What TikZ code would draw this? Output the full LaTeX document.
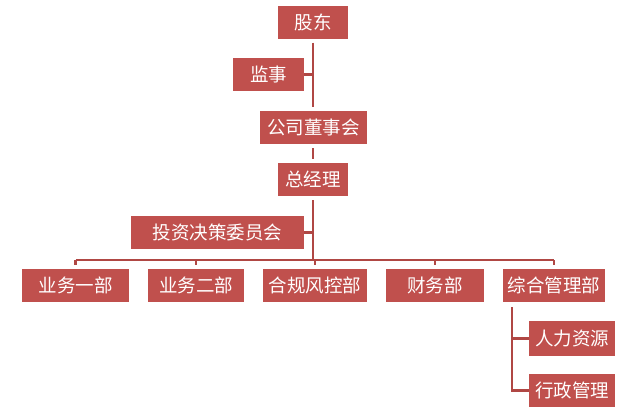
\documentclass[tikz,border=0pt]{standalone}
\usepackage{fontspec}
\setmainfont{Noto Sans CJK SC}
\definecolor{boxred}{HTML}{C0504D}
\definecolor{linered}{HTML}{B04744}
\begin{document}
\begin{tikzpicture}[x=1pt,y=-1pt,
  box/.style={fill=boxred,text=white,inner sep=0pt,font=\fontsize{18.5}{21}\selectfont,minimum height=33pt},
  conn/.style={draw=linered,line width=2.8pt},
  gap/.style={shorten <=4pt,shorten >=4pt}]
\useasboundingbox (0,0) rectangle (635,413);
\node[box,minimum width=70pt] (gd) at (313,22) {股东};
\node[box,minimum width=71pt] (js) at (268.5,74.5) {监事};
\node[box,minimum width=107pt] (dsh) at (313.5,127.5) {公司董事会};
\node[box,minimum width=70pt] (zjl) at (313,179.5) {总经理};
\node[box,minimum width=173pt] (tz) at (217.5,232.5) {投资决策委员会};
\node[box,minimum width=107pt] (yw1) at (75.5,285.5) {业务一部};
\node[box,minimum width=96pt] (yw2) at (196,285.5) {业务二部};
\node[box,minimum width=104pt] (hg) at (315,285.5) {合规风控部};
\node[box,minimum width=98pt] (cw) at (435,285.5) {财务部};
\node[box,minimum width=102pt] (zh) at (554,285.5) {综合管理部};
\node[box,minimum width=86pt,minimum height=35pt] (rl) at (572,338.5) {人力资源};
\node[box,minimum width=86pt] (xz) at (572,390.5) {行政管理};
\coordinate (bus) at (313,260);
\coordinate (trk) at (512,0);
% trunk
\draw[conn,gap] (gd.south) -- (gd.south |- dsh.north);
\draw[conn] (js.east) -- (js.east -| gd.south);
\draw[conn,gap] (dsh.south -| zjl.north) -- (zjl.north);
\draw[conn,shorten <=4pt] (zjl.south) -- (zjl.south |- bus);
\draw[conn] (tz.east) -- (tz.east -| zjl.south);
% bus
\draw[conn] (yw1.north |- bus) -- (zh.north |- bus);
\foreach \n in {yw1,yw2,hg,cw,zh}{
  \draw[conn,shorten >=4pt] (\n.north |- bus) -- (\n.north);
}
% children of zh
\draw[conn,shorten <=5pt] (trk |- zh.south) -- (trk |- xz.west) -- (xz.west);
\draw[conn] (trk |- rl.west) -- (rl.west);
\end{tikzpicture}
\end{document}
